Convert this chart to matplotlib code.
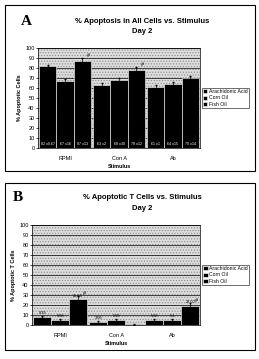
import numpy as np
import matplotlib
matplotlib.use('Agg')
import matplotlib.pyplot as plt
import matplotlib.patches as mpatches

plt.rcParams['font.family'] = ['Liberation Sans', 'DejaVu Sans']
plt.rcParams['hatch.color'] = '#8a8a8a'
plt.rcParams['hatch.linewidth'] = 0.5

stimuli = ['RPMI', 'Con A', 'Ab']
oils = ['Arachidonic Acid', 'Corn Oil', 'Fish Oil']

# panel A: % apoptosis in all cells
all_vals = [[82, 63, 61], [67, 68, 64], [87, 78, 70]]
all_err = [[1, 2, 2], [2, 2, 2], [3, 3, 2]]
all_labels = [['82 ±0.67', '63 ±2', '61 ±1'],
              ['67 ±16', '68 ±30', '64 ±15'],
              ['87 ±13', '78 ±12', '70 ±14']]
all_marks = [['', '', ''], ['', '', ''], ['#', '#', '']]

# panel B: % apoptotic T cells
t_vals = [[8.39, 3.0, 5.08], [5.08, 5.09, 5.0], [25.63, 1.0, 19.0]]
t_labels = [['8.39', '3.06', '5.08'], ['5.08', '5.09', '5.1'], ['25.63', '', '22.00']]
t_err = [[1, 1, 1], [1, 1, 1], [3, 0.5, 3]]
t_marks = [['', '', ''], ['', '', ''], ['#', '', '#']]

fig = plt.figure(figsize=(2.59, 3.59), dpi=100, facecolor='white')

# panel frames
for (x0, y0, w, h) in [(0.02, 0.525, 0.965, 0.46), (0.02, 0.025, 0.965, 0.465)]:
    fig.patches.append(mpatches.Rectangle((x0, y0), w, h, transform=fig.transFigure,
                                          fill=False, edgecolor='black', linewidth=0.8))


def panel(rect, vals, errs, labels, marks, inside, title, ylabel, letter, lx, ly, dt, dd):
    ax = fig.add_axes(rect)
    ax.set_facecolor('white')
    ax.add_patch(mpatches.Rectangle((0, 0), 1, 1, transform=ax.transAxes, facecolor='#dcdcdc',
                                    hatch='......', edgecolor='#8a8a8a', linewidth=0, zorder=0))
    x = np.arange(len(stimuli))
    w = 0.32
    for i, oil in enumerate(oils):
        xs = x + (i - 1) * w
        ax.bar(xs, vals[i], w, color='black', edgecolor='white', linewidth=0.4,
               label=oil, zorder=3)
        ax.errorbar(xs, vals[i], yerr=errs[i], fmt='none', ecolor='black',
                    elinewidth=0.5, capsize=1, zorder=4)
        for j, xx in enumerate(xs):
            if inside:
                ax.text(xx, 2, labels[i][j], ha='center', va='bottom', fontsize=2.6,
                        color='white', zorder=5)
            else:
                ax.text(xx, vals[i][j] + 1.5, labels[i][j], ha='center', va='bottom',
                        fontsize=2.8, color='black', zorder=5)
            if marks[i][j]:
                ax.text(xx + 0.12, vals[i][j] + errs[i][j], marks[i][j], ha='center',
                        va='bottom', fontsize=4, color='black', zorder=6)
    ax.set_ylim(0, 100)
    ax.set_xlim(-0.5, 2.5)
    ax.set_yticks(range(0, 101, 10))
    ax.set_xticks(x)
    ax.set_xticklabels(stimuli)
    ax.tick_params(labelsize=4, length=1.5, width=0.5, pad=1)
    ax.tick_params(axis='x', length=0, pad=6)
    ax.yaxis.grid(True, color='black', linewidth=0.5)
    for g in ax.get_ygridlines():
        g.set_zorder(1)
    for s in ax.spines.values():
        s.set_linewidth(0.5)
    ax.set_ylabel(ylabel, fontsize=4, fontweight='bold', labelpad=2)
    ax.set_xlabel('Stimulus', fontsize=4, fontweight='bold', labelpad=2)
    leg = ax.legend(loc='center left', bbox_to_anchor=(1.01, 0.5), fontsize=3.7,
                    frameon=True, fancybox=False, edgecolor='black', handlelength=0.8,
                    handleheight=0.8, borderpad=0.3, labelspacing=0.25, handletextpad=0.3,
                    borderaxespad=0)
    leg.get_frame().set_linewidth(0.5)
    top = rect[1] + rect[3]
    fig.text(0.55, top + dt, title, ha='center', va='center',
             fontsize=5.5, fontweight='bold')
    fig.text(0.55, top + dd, 'Day 2', ha='center', va='center',
             fontsize=5.5, fontweight='bold')
    fig.text(lx, ly, letter, ha='left', va='center', fontsize=11, fontweight='bold',
             family='Liberation Serif')
    return ax


panel([0.147, 0.588, 0.625, 0.279], all_vals, all_err, all_labels, all_marks, True,
      '% Apoptosis in All Cells vs. Stimulus', '% Apoptotic Cells', 'A',
      0.08, 0.94, 0.072, 0.044)
panel([0.124, 0.0947, 0.649, 0.279], t_vals, t_err, t_labels, t_marks, False,
      '% Apoptotic T Cells vs. Stimulus', '% Apoptotic T Cells', 'B',
      0.05, 0.45, 0.077, 0.046)

fig.savefig('out.png', dpi=100, facecolor='white')
